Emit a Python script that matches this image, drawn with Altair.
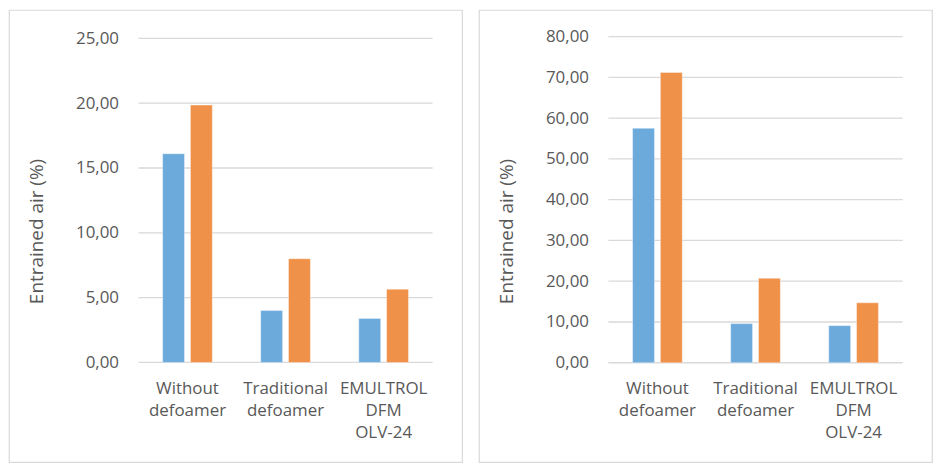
import altair as alt
import pandas as pd

categories = ["Without defoamer", "Traditional defoamer", "EMULTROL DFM OLV-24"]
series_names = ["Series1", "Series2"]

left_blue = [16.1, 4.0, 3.4]
left_orange = [19.85, 8.0, 5.65]
left_ticks = [0, 5, 10, 15, 20, 25]

right_blue = [57.5, 9.6, 9.1]
right_orange = [71.2, 20.7, 14.7]
right_ticks = [0, 10, 20, 30, 40, 50, 60, 70, 80]

y_title = "Entrained air (%)"
colors = ["#6DAADC", "#F0914A"]
grey = "#595959"
FONT = "Open Sans"
W, H = 455, 454


def panel(blue, orange, ticks, y_range):
    rows = []
    for c, b, o in zip(categories, blue, orange):
        rows.append({"cat": c, "series": series_names[0], "value": b})
        rows.append({"cat": c, "series": series_names[1], "value": o})
    df = pd.DataFrame(rows)
    tdf = pd.DataFrame({"value": ticks})
    yscale = alt.Scale(domain=[ticks[0], ticks[-1]], range=y_range, nice=False, zero=True)
    yaxis = alt.Axis(
        values=ticks,
        orient="left",
        offset=-110,
        domain=False,
        ticks=False,
        grid=False,
        labelPadding=0,
        labelFont=FONT,
        labelFontSize=17,
        labelColor=grey,
        labelExpr="replace(format(datum.value, '.2f'), '.', ',')",
        title=y_title,
        titleFont=FONT,
        titleFontSize=19,
        titleFontWeight="normal",
        titleColor=grey,
        titleAngle=270,
        titleAlign="center",
        titleBaseline="middle",
        titleX=-82,
        titleY=222,
    )

    grid = alt.Chart(tdf).mark_rule(color="#D9D9D9", strokeWidth=1.3).encode(
        y=alt.Y("value:Q", scale=yscale, axis=yaxis),
        x=alt.value(130),
        x2=alt.value(425.5),
    )

    bars = alt.Chart(df).mark_bar(stroke="#FFFFFF", strokeWidth=0.6, strokeOpacity=0.6).encode(
        x=alt.X(
            "cat:N",
            sort=categories,
            scale=alt.Scale(range=[130, 425.5], paddingInner=0, paddingOuter=0),
            axis=alt.Axis(
                title=None,
                orient="bottom",
                offset=-100,
                domain=False,
                ticks=False,
                labelAngle=0,
                labelAlign="center",
                labelBaseline="top",
                labelPadding=18,
                labelLineHeight=22,
                labelFont=FONT,
                labelFontSize=17,
                labelColor=grey,
                labelOverlap=False,
                labelExpr="split(datum.label, ' ')",
            ),
        ),
        xOffset=alt.XOffset(
            "series:N",
            sort=series_names,
            scale=alt.Scale(paddingInner=0.214, paddingOuter=0.87),
        ),
        y=alt.Y("value:Q", scale=yscale, axis=yaxis),
        color=alt.Color("series:N", scale=alt.Scale(domain=series_names, range=colors), legend=None),
    )
    return alt.layer(grid, bars).properties(width=W, height=H)


left = panel(left_blue, left_orange, left_ticks, [354, 28.5])
right = panel(right_blue, right_orange, right_ticks, [354.3, 26.7])

chart = (
    alt.hconcat(left, right, spacing=15)
    .properties(padding=0, background="white")
    .configure_view(stroke="#D9D9D9", strokeWidth=1.2)
)

chart.save("out.html", embed_options={"renderer": "svg", "actions": False})
